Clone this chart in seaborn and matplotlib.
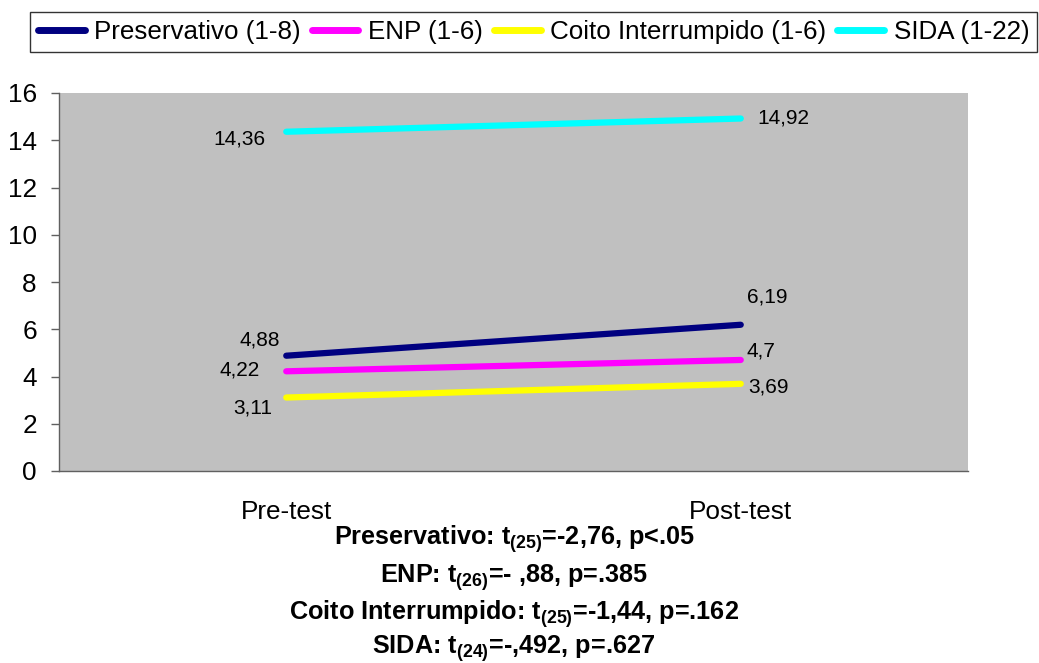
import matplotlib
matplotlib.use("Agg")
import matplotlib.pyplot as plt
import seaborn as sns
import pandas as pd

phases = ["Pre-test", "Post-test"]
series = ["Preservativo (1-8)", "ENP (1-6)", "Coito Interrumpido (1-6)", "SIDA (1-22)"]
pre_values = [4.88, 4.22, 3.11, 14.36]
post_values = [6.19, 4.70, 3.69, 14.92]
pre_labels = ["4,88", "4,22", "3,11", "14,36"]
post_labels = ["6,19", "4,7", "3,69", "14,92"]
colors = ["#000080", "#FF00FF", "#FFFF00", "#00FFFF"]
stats_lines = [
    r"Preservativo: t$_{\mathbf{(25)}}$=-2,76, p<.05",
    r"ENP: t$_{\mathbf{(26)}}$=- ,88, p=.385",
    r"Coito Interrumpido: t$_{\mathbf{(25)}}$=-1,44, p=.162",
    r"SIDA: t$_{\mathbf{(24)}}$=-,492, p=.627",
]

sns.set_style("white")
plt.rcParams["font.family"] = ["Liberation Sans", "DejaVu Sans"]
plt.rcParams["mathtext.fontset"] = "custom"
plt.rcParams["mathtext.rm"] = "Liberation Sans"
plt.rcParams["mathtext.bf"] = "Liberation Sans:bold"
plt.rcParams["mathtext.it"] = "Liberation Sans:italic"
plt.rcParams["text.color"] = "black"
plt.rcParams["xtick.color"] = "black"
plt.rcParams["ytick.color"] = "black"

rows = []
for s, a, b in zip(series, pre_values, post_values):
    rows.append({"x": 0, "phase": phases[0], "series": s, "value": a})
    rows.append({"x": 1, "phase": phases[1], "series": s, "value": b})
df = pd.DataFrame(rows)

fig = plt.figure(figsize=(10.39, 6.63), dpi=100)
ax = fig.add_axes([59 / 1039, 1 - 471 / 663, (968 - 59) / 1039, (471 - 93) / 663])
ax.set_facecolor("#C0C0C0")

sns.lineplot(data=df, x="x", y="value", hue="series", hue_order=series,
             palette=colors, linewidth=4.5, ax=ax, legend=False,
             solid_capstyle="round", sort=False)

ax.set_xlim(-0.5, 1.5)
ax.set_ylim(0, 16)
ax.set_yticks(range(0, 17, 2))
ax.set_xticks([0, 1])
ax.set_xticklabels(phases)
ax.set_xticks([-0.5, 0.5, 1.5], minor=True)
ax.tick_params(axis="x", which="major", length=0, pad=21, labelsize=18.8, labelcolor="black")
ax.tick_params(axis="x", which="minor", length=6, width=1, color="#606060", direction="out")
ax.tick_params(axis="y", length=6, width=1, color="#606060", direction="out",
               labelsize=18.8, pad=10, left=True, labelcolor="black")
ax.set_xlabel("")
ax.set_ylabel("")
for sp in ["top", "right"]:
    ax.spines[sp].set_visible(False)
for sp in ["left", "bottom"]:
    ax.spines[sp].set_color("#606060")
    ax.spines[sp].set_linewidth(1)

# data labels (offsets in pixels)
pre_offsets = [(-26, 16), (-47, 1), (-33, -10), (-47, -7)]
post_offsets = [(26, 28), (20, 9), (28, -3), (43, 1)]
for v, lab, off in zip(pre_values, pre_labels, pre_offsets):
    ax.annotate(lab, (0, v), xytext=off, textcoords="offset pixels",
                ha="center", va="center", fontsize=15, color="black")
for v, lab, off in zip(post_values, post_labels, post_offsets):
    ax.annotate(lab, (1, v), xytext=off, textcoords="offset pixels",
                ha="center", va="center", fontsize=15, color="black")

handles = [plt.Line2D([], [], color=c, linewidth=5, solid_capstyle="round") for c in colors]
leg = fig.legend(handles, series, loc="upper left", bbox_to_anchor=(30 / 1039, 1 - 12 / 663),
                 ncol=4, fontsize=18.7, frameon=True, fancybox=False, edgecolor="black",
                 handlelength=1.8, handletextpad=0.37, columnspacing=0.42, borderpad=0.3,
                 borderaxespad=0)
leg.get_frame().set_linewidth(1)

baselines = [545, 583, 620, 654]
for txt, yb in zip(stats_lines, baselines):
    fig.text(514 / 1039, 1 - yb / 663, txt, ha="center", va="baseline",
             fontsize=18.2, fontweight="bold", color="black")

fig.savefig("out.png", dpi=100)
